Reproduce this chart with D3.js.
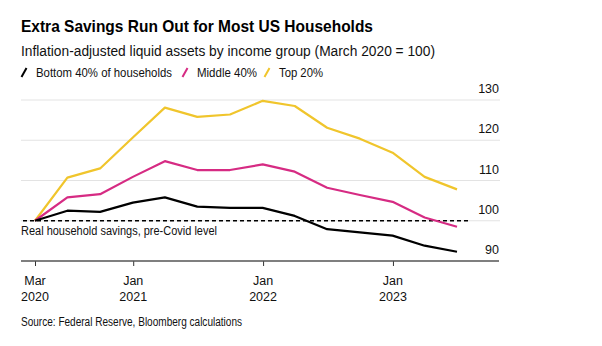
<!DOCTYPE html>
<html><head><meta charset="utf-8">
<script src="https://cdn.jsdelivr.net/npm/d3@7"></script>
<style>
body{margin:0;background:#fff;}
svg{display:block;font-family:"Liberation Sans",Arial,sans-serif;}
</style></head>
<body>
<svg id="chart" width="602" height="346"></svg>
<script>
const dates = ["2020-03-31","2020-06-30","2020-09-30","2020-12-31","2021-03-31","2021-06-30","2021-09-30","2021-12-31","2022-03-31","2022-06-30","2022-09-30","2022-12-31","2023-03-31","2023-06-30"];
const bottom40 = [100,102.5,102.2,104.5,105.8,103.5,103.2,103.2,101.2,97.9,97.1,96.3,93.8,92.3];
const middle40 = [100,105.8,106.6,110.9,114.8,112.6,112.6,114.0,112.2,108.2,106.4,104.7,100.8,98.5];
const top20 = [100,110.7,113.0,120.7,128.1,125.8,126.4,129.8,128.5,123.1,120.4,116.9,110.9,107.8];
const seriesNames = ["Bottom 40% of households","Middle 40%","Top 20%"];
const colors = ["#000000","#d62b83","#f0c52c"];
const yTicks = [90,100,110,120,130];
const xTickDates = ["2020-03-31","2021-01-01","2022-01-01","2023-01-01"];
const xTickLabels = [["Mar","2020"],["Jan","2021"],["Jan","2022"],["Jan","2023"]];

const parse = d3.utcParse("%Y-%m-%d");
const svg = d3.select("#chart");

function fit(sel, w){ return sel.attr("textLength",w).attr("lengthAdjust","spacingAndGlyphs"); }

fit(svg.append("text").attr("x",21).attr("y",32).attr("font-size",16.5).attr("font-weight","bold").attr("fill","#000")
  .text("Extra Savings Run Out for Most US Households"),352);
fit(svg.append("text").attr("x",21).attr("y",56).attr("font-size",15.5).attr("fill","#111")
  .text("Inflation-adjusted liquid assets by income group (March 2020 = 100)"),414);

// legend
const legendX = [21,182,264];
const legendW = [136,60,44];
seriesNames.forEach((n,i)=>{
  const g = svg.append("g").attr("transform",`translate(${legendX[i]},0)`);
  g.append("line").attr("x1",0.5).attr("y1",77).attr("x2",5.5).attr("y2",68)
    .attr("stroke",colors[i]).attr("stroke-width",2);
  fit(g.append("text").attr("x",15).attr("y",77).attr("font-size",12).attr("fill","#111").text(n),legendW[i]);
});

const x = d3.scaleUtc().domain([parse(dates[0]), parse(dates[dates.length-1])]).range([35,457]);
const y = d3.scaleLinear().domain([90,130]).range([261,100]);

// gridlines
svg.append("g").selectAll("line").data(yTicks.filter(t=>t>90)).join("line")
  .attr("x1",21).attr("x2",500).attr("y1",d=>y(d)).attr("y2",d=>y(d))
  .attr("stroke","#e3e3e3").attr("stroke-width",1);
svg.append("g").selectAll("text").data(yTicks).join("text")
  .attr("x",499).attr("y",d=>y(d)-7).attr("text-anchor","end").attr("font-size",12.5).attr("fill","#111")
  .text(d=>d);

// dashed reference
svg.append("line").attr("x1",23).attr("x2",470).attr("y1",y(100)).attr("y2",y(100))
  .attr("stroke","#000").attr("stroke-width",1.3).attr("stroke-dasharray","4,3");
fit(svg.append("text").attr("x",21).attr("y",235).attr("font-size",12.5).attr("fill","#111")
  .text("Real household savings, pre-Covid level"),196);

// x axis
const xAxis = d3.axisBottom(x).tickValues(xTickDates.map(parse)).tickSize(5).tickFormat("");
const ax = svg.append("g").attr("transform",`translate(0,${y(90)})`).call(xAxis);
ax.select(".domain").remove();
ax.selectAll(".tick line").attr("stroke","#333").attr("stroke-width",1);
svg.append("line").attr("x1",21).attr("x2",499).attr("y1",y(90)).attr("y2",y(90))
  .attr("stroke","#555").attr("stroke-width",1.5);
xTickDates.forEach((d,i)=>{
  const t = svg.append("text").attr("x",x(parse(d))).attr("text-anchor","middle").attr("font-size",12.5).attr("fill","#111");
  t.append("tspan").attr("x",x(parse(d))).attr("y",285).text(xTickLabels[i][0]);
  t.append("tspan").attr("x",x(parse(d))).attr("y",301).text(xTickLabels[i][1]);
});

// lines
const line = d3.line().x((d,i)=>x(parse(dates[i]))).y(d=>y(d));
[top20, middle40, bottom40].forEach((s,k)=>{
  const ci = 2-k;
  svg.append("path").datum(s).attr("d",line).attr("fill","none")
    .attr("stroke",colors[ci]).attr("stroke-width",2.2).attr("stroke-linejoin","round");
});

fit(svg.append("text").attr("x",21).attr("y",326).attr("font-size",12).attr("fill","#111")
  .text("Source: Federal Reserve, Bloomberg calculations"),221);
</script>
</body></html>
